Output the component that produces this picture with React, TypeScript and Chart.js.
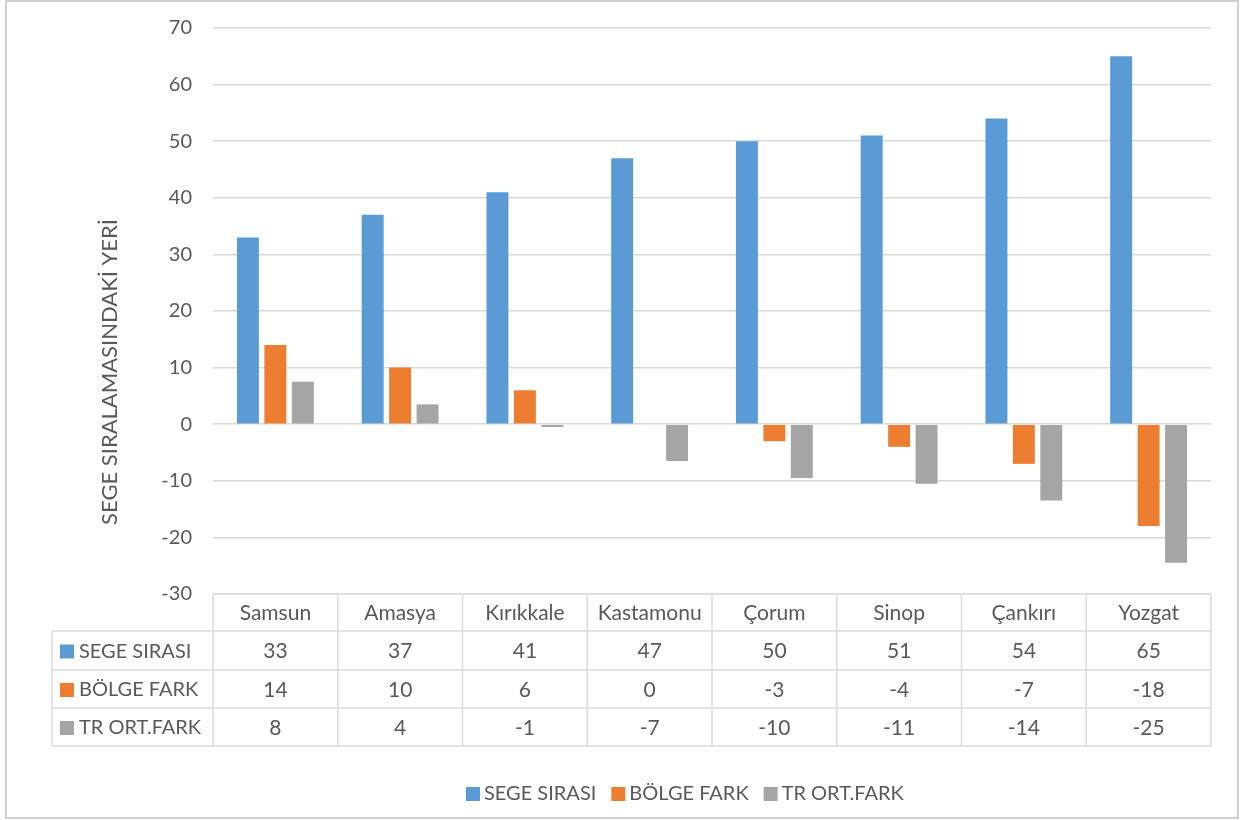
import React, { useEffect, useRef } from "react";
import { Chart, registerables } from "chart.js";
Chart.register(...registerables);

const categories = ["Samsun", "Amasya", "Kırıkkale", "Kastamonu", "Çorum", "Sinop", "Çankırı", "Yozgat"];
const segeSirasi = [33, 37, 41, 47, 50, 51, 54, 65];
const bolgeFark = [14, 10, 6, 0, -3, -4, -7, -18];
const trOrtFark = [7.5, 3.5, -0.5, -6.5, -9.5, -10.5, -13.5, -24.5];
const seriesNames = ["SEGE SIRASI", "BÖLGE FARK", "TR ORT.FARK"];
const seriesColors = ["#5B9BD5", "#ED7D31", "#A5A5A5"];
const yMin = -30;
const yMax = 70;
const yStep = 10;
const yAxisTitle = "SEGE SIRALAMASINDAKİ YERİ";

const FONT = "Lato";
const FS = 20;
const TEXT = "#595959";
const GRID = "#d9d9d9";

const excelRound = (v: number) => String(Math.sign(v) * Math.round(Math.abs(v)) || 0);

const decor = {
  id: "decor",
  beforeDraw(chart: any) {
    const ctx = chart.ctx;
    ctx.save();
    ctx.fillStyle = "#ffffff";
    ctx.fillRect(0, 0, chart.width, chart.height);
    ctx.strokeStyle = "#d0d0d0";
    ctx.lineWidth = 2;
    ctx.strokeRect(6, 1, 1232, 817);
    ctx.restore();
  },
  afterDraw(chart: any) {
    const ctx = chart.ctx;
    const area = chart.chartArea;
    const datasets = chart.data.datasets;
    const n = categories.length;
    const colW = (area.right - area.left) / n;
    const legendLeft = 52;
    const rows = [area.bottom, area.bottom + 37, area.bottom + 76, area.bottom + 114, area.bottom + 152];
    ctx.save();
    ctx.strokeStyle = "#dcdcdc";
    ctx.lineWidth = 1.5;
    ctx.beginPath();
    ctx.moveTo(area.left, rows[0]);
    ctx.lineTo(area.right, rows[0]);
    for (let r = 1; r < rows.length; r++) {
      ctx.moveTo(legendLeft, rows[r]);
      ctx.lineTo(area.right, rows[r]);
    }
    ctx.moveTo(legendLeft, rows[1]);
    ctx.lineTo(legendLeft, rows[4]);
    for (let i = 0; i <= n; i++) {
      const x = area.left + i * colW;
      ctx.moveTo(x, rows[0]);
      ctx.lineTo(x, rows[4]);
    }
    ctx.stroke();

    ctx.font = `21px ${FONT}`;
    ctx.fillStyle = TEXT;
    ctx.textAlign = "center";
    ctx.textBaseline = "middle";
    categories.forEach((c, i) => {
      ctx.fillText(c, area.left + (i + 0.5) * colW, (rows[0] + rows[1]) / 2 + 1);
    });
    datasets.forEach((ds: any, r: number) => {
      const yc = (rows[r + 1] + rows[r + 2]) / 2 + 1;
      ctx.font = `21px ${FONT}`;
      ds.data.forEach((v: number, i: number) => {
        ctx.fillStyle = TEXT;
        ctx.textAlign = "center";
        ctx.fillText(excelRound(v), area.left + (i + 0.5) * colW, yc);
      });
      ctx.font = `${FS}px ${FONT}`;
      ctx.fillStyle = ds.backgroundColor;
      ctx.fillRect(60, yc - 7, 14, 14);
      ctx.fillStyle = TEXT;
      ctx.textAlign = "left";
      ctx.fillText(ds.label, 79, yc);
    });

    // legend
    ctx.font = `${FS}px ${FONT}`;
    let lx = 466;
    const ly = 794;
    datasets.forEach((ds: any) => {
      ctx.fillStyle = ds.backgroundColor;
      ctx.fillRect(lx, ly - 7, 14, 14);
      lx += 18;
      ctx.fillStyle = TEXT;
      ctx.textAlign = "left";
      ctx.fillText(ds.label, lx, ly);
      lx += ctx.measureText(ds.label).width + 15;
    });

    // y axis title
    ctx.font = `22px ${FONT}`;
    ctx.translate(110, 372);
    ctx.rotate(-Math.PI / 2);
    ctx.textAlign = "center";
    ctx.fillStyle = TEXT;
    ctx.fillText(yAxisTitle, 0, 0);
    ctx.restore();
  },
};

export default function App() {
  const ref = useRef<HTMLCanvasElement | null>(null);
  useEffect(() => {
    if (!ref.current) return;
    const seriesData = [segeSirasi, bolgeFark, trOrtFark];
    const chart = new Chart(ref.current, {
      type: "bar",
      data: {
        labels: categories,
        datasets: seriesNames.map((name, i) => ({
          label: name,
          data: seriesData[i],
          backgroundColor: seriesColors[i],
          borderWidth: 0,
          barPercentage: 0.8,
          categoryPercentage: 0.66,
        })),
      },
      options: {
        responsive: false,
        animation: false,
        layout: { padding: { top: 28, right: 30, left: 0, bottom: 0 } },
        plugins: { legend: { display: false }, tooltip: { enabled: false } },
        scales: {
          x: {
            grid: { display: false },
            border: { display: false },
            ticks: { display: false },
            afterFit: (s: any) => {
              s.height = 226;
            },
          },
          y: {
            min: yMin,
            max: yMax,
            ticks: { stepSize: yStep, color: TEXT, font: { family: FONT, size: FS }, padding: 21 },
            grid: { color: GRID, lineWidth: 1.5, drawTicks: false },
            border: { display: false },
            afterFit: (s: any) => {
              s.width = 213;
              s.paddingTop = 0;
              s.paddingBottom = 0;
            },
          },
        },
      },
      plugins: [decor],
    });
    return () => chart.destroy();
  }, []);
  return (
    <div style={{ position: "absolute", left: 0, top: 0, width: 1241, height: 820 }}>
      <canvas ref={ref} width={1241} height={820} style={{ display: "block" }} />
    </div>
  );
}
